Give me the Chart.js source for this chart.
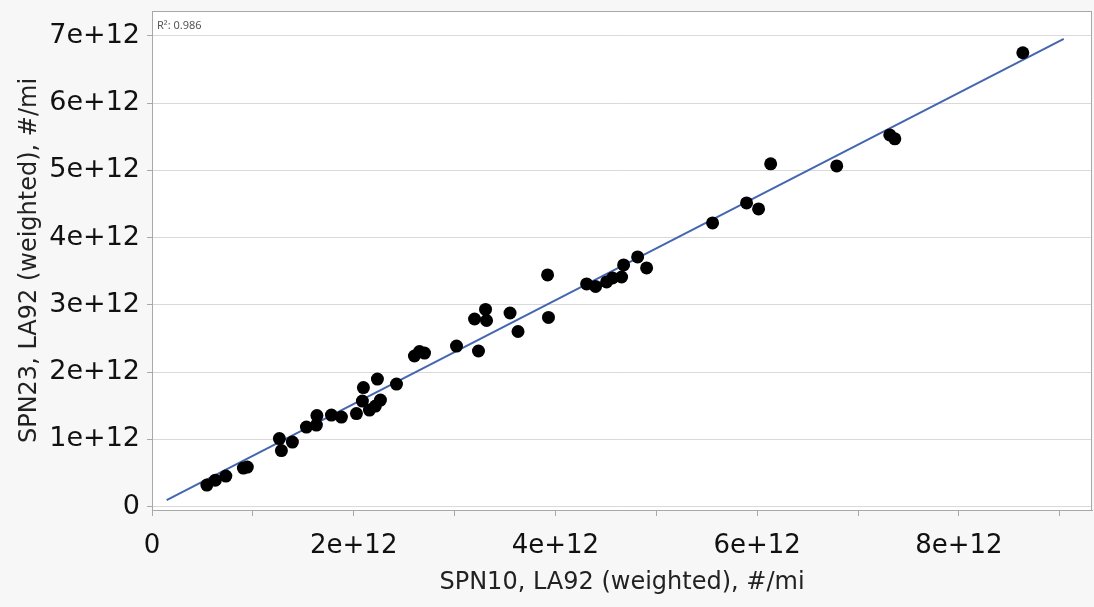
<!DOCTYPE html>
<html>
<head>
<meta charset="utf-8">
<script src="https://cdn.jsdelivr.net/npm/chart.js@4"></script>
<style>
  html, body { margin: 0; padding: 0; background: #f7f7f7; }
  #wrap { width: 1094px; height: 607px; }
</style>
</head>
<body>
<div id="wrap"><canvas id="grafico" width="1094" height="607"></canvas></div>
<script>
// SPN10 vs SPN23 (LA92 weighted), values in #/mi
var spn10 = [
  0.544e12, 0.628e12, 0.732e12, 0.906e12, 0.945e12, 1.263e12, 1.283e12, 1.392e12, 1.531e12, 1.630e12,
  1.635e12, 1.779e12, 1.878e12, 2.027e12, 2.086e12, 2.096e12, 2.156e12, 2.215e12, 2.235e12, 2.265e12,
  2.424e12, 2.602e12, 2.652e12, 2.702e12, 3.019e12, 3.198e12, 3.237e12, 3.307e12, 3.317e12, 3.550e12,
  3.629e12, 3.922e12, 3.931e12, 4.309e12, 4.398e12, 4.507e12, 4.566e12, 4.656e12, 4.676e12, 4.815e12,
  4.904e12, 5.558e12, 5.895e12, 6.014e12, 6.134e12, 6.789e12, 7.315e12, 7.365e12, 8.634e12
];
var spn23 = [
  0.320e12, 0.394e12, 0.454e12, 0.573e12, 0.588e12, 1.012e12, 0.833e12, 0.960e12, 1.183e12, 1.213e12,
  1.354e12, 1.362e12, 1.332e12, 1.384e12, 1.570e12, 1.771e12, 1.436e12, 1.496e12, 1.897e12, 1.585e12,
  1.823e12, 2.240e12, 2.307e12, 2.284e12, 2.388e12, 2.790e12, 2.314e12, 2.932e12, 2.768e12, 2.879e12,
  2.604e12, 3.445e12, 2.813e12, 3.311e12, 3.274e12, 3.341e12, 3.400e12, 3.415e12, 3.594e12, 3.713e12,
  3.549e12, 4.219e12, 4.516e12, 4.427e12, 5.097e12, 5.067e12, 5.528e12, 5.469e12, 6.749e12
];
// fit line end points
var fitX = [0.145e12, 9.04e12];
var fitY = [0.097e12, 6.957e12];
var xTicks = [0, 1e12, 2e12, 3e12, 4e12, 5e12, 6e12, 7e12, 8e12, 9e12];
var yTicks = [0, 1e12, 2e12, 3e12, 4e12, 5e12, 6e12, 7e12];
var rsquare = 'R\u00b2: 0.986';

function fmt(v) {
  if (v === 0) return '0';
  return Math.round(v / 1e12) + 'e+12';
}

var pontos = [];
for (var i = 0; i < spn10.length; i++) {
  pontos.push({x: spn10[i], y: spn23[i]});
}
var linha = [];
for (var j = 0; j < fitX.length; j++) {
  linha.push({x: fitX[j], y: fitY[j]});
}

var fundo = {
  id: 'fundo',
  beforeDraw: function(chart) {
    var a = chart.chartArea, ctx = chart.ctx;
    ctx.save();
    ctx.fillStyle = '#ffffff';
    ctx.fillRect(a.left, a.top, a.right - a.left, a.bottom - a.top);
    ctx.restore();
  },
  afterDraw: function(chart) {
    var a = chart.chartArea, ctx = chart.ctx;
    ctx.save();
    ctx.strokeStyle = '#a8a8a8';
    ctx.lineWidth = 1;
    ctx.strokeRect(a.left + 0.5, a.top + 0.5, a.right - a.left - 1, a.bottom - a.top);
    ctx.fillStyle = '#555555';
    ctx.font = '11px "Noto Sans"';
    ctx.textBaseline = 'middle';
    ctx.fillText(rsquare, a.left + 5, a.top + 15);
    ctx.restore();
  }
};

var ctx = document.getElementById('grafico').getContext('2d');
var scatterChart = new Chart(ctx, {
  type: 'scatter',
  data: {
    datasets: [{
      label: 'SPN23',
      data: pontos,
      backgroundColor: '#000000',
      borderWidth: 0,
      pointRadius: 6.5,
      order: 1
    }, {
      type: 'line',
      label: 'fit',
      data: linha,
      borderColor: '#4466b0',
      borderWidth: 2,
      pointRadius: 0,
      fill: false,
      order: 2
    }]
  },
  options: {
    responsive: false,
    animation: false,
    layout: { autoPadding: false, padding: { top: 11, right: 2, left: 0, bottom: 0 } },
    plugins: { legend: { display: false }, tooltip: { enabled: false } },
    scales: {
      x: {
        type: 'linear',
        min: 0,
        max: 9.32e12,
        afterBuildTicks: function(scale) {
          scale.ticks = xTicks.map(function(v) { return {value: v}; });
        },
        afterFit: function(scale) {
          scale.height = 97;
          scale.paddingLeft = 0;
          scale.paddingRight = 0;
        },
        grid: { drawOnChartArea: false, tickLength: 6, tickColor: '#a8a8a8' },
        border: { display: true, color: '#a8a8a8' },
        ticks: {
          autoSkip: false,
          maxRotation: 0,
          padding: 15,
          color: '#111111',
          font: { family: 'DejaVu Sans', size: 26 },
          callback: function(v) {
            return (v / 1e12) % 2 === 0 ? fmt(v) : '';
          }
        },
        title: {
          display: true,
          text: 'SPN10, LA92 (weighted), #/mi',
          color: '#222222',
          font: { family: 'DejaVu Sans', size: 24 },
          padding: { top: 4, bottom: 10 }
        }
      },
      y: {
        type: 'linear',
        min: -0.05e12,
        max: 7.37e12,
        afterBuildTicks: function(scale) {
          scale.ticks = yTicks.map(function(v) { return {value: v}; });
        },
        afterFit: function(scale) {
          scale.width = 152;
          scale.paddingTop = 0;
          scale.paddingBottom = 0;
        },
        grid: { color: '#d9d9d9', tickLength: 5, tickColor: '#a8a8a8' },
        border: { display: true, color: '#a8a8a8' },
        ticks: {
          autoSkip: false,
          padding: 7,
          color: '#111111',
          font: { family: 'DejaVu Sans', size: 27 },
          callback: function(v) { return fmt(v); }
        },
        title: {
          display: true,
          text: 'SPN23, LA92 (weighted), #/mi',
          color: '#222222',
          font: { family: 'DejaVu Sans', size: 24 },
          padding: { top: 15, bottom: 4 }
        }
      }
    }
  },
  plugins: [fundo]
});
</script>
</body>
</html>
